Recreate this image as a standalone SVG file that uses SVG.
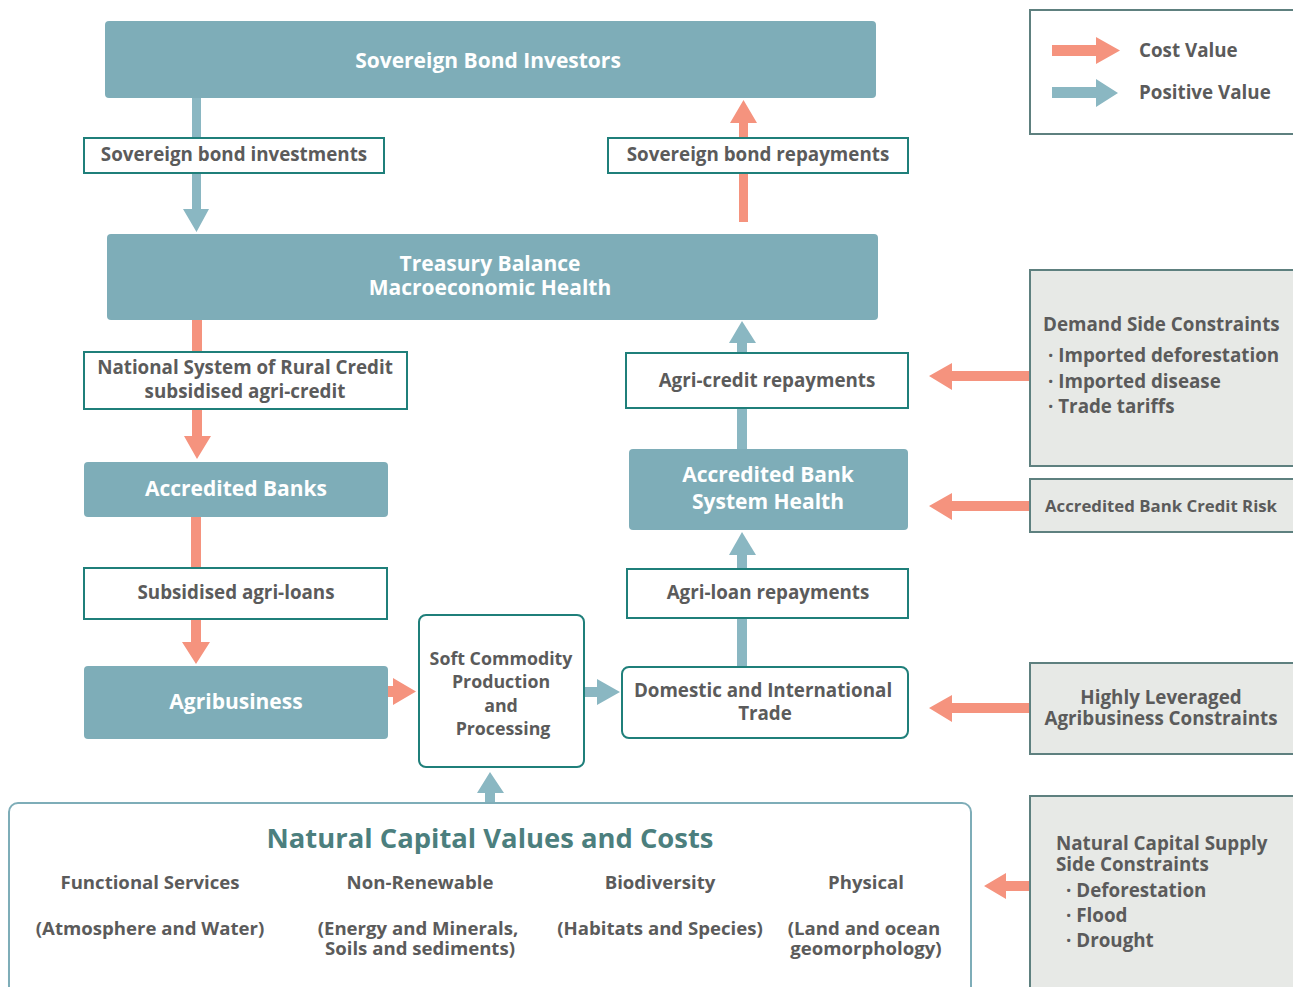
<svg xmlns="http://www.w3.org/2000/svg" width="1293" height="987" viewBox="0 0 1293 987">
<style>
text{font-family:"Open Sans","Noto Sans",sans-serif;font-weight:700;}
.box{fill:#7eadb8;}
.bt{fill:#ffffff;font-size:21px;text-anchor:middle;}
.lbl{fill:#ffffff;stroke:#1f7f7a;stroke-width:2;}
.lt{fill:#5b5b5b;font-size:18.8px;text-anchor:middle;}
.st{fill:#5b5b5b;font-size:17.8px;text-anchor:middle;}
.gray{fill:#e7e9e6;stroke:#5e807f;stroke-width:2;}
.gt{fill:#5b5b5b;font-size:18.8px;}
.cost{fill:#f5937e;}
.pos{fill:#8ab7c2;}
.nc{fill:#5b5b5b;font-size:18.6px;text-anchor:middle;}
</style>
<rect width="1293" height="987" fill="#ffffff"/>
<g id="connectors">
<polygon class="pos" points="192,98 201,98 201,209 209,209 196.5,232 183,209 192,209"/>
<polygon class="cost" points="739,222 748,222 748,123 757,123 743.5,100 730,123 739,123"/>
<polygon class="cost" points="192,320 202,320 202,436 211,436 197,459 184,436 192,436"/>
<polygon class="cost" points="191,517 201,517 201,642 210,642 196,664 182,642 191,642"/>
<polygon class="pos" points="737,343 747,343 747,449 737,449 737,343"/>
<polygon class="pos" points="729,343 742,321 756,343"/>
<polygon class="pos" points="737,555 747,555 747,667 737,667"/>
<polygon class="pos" points="729,555 742,532 756,555"/>
<polygon class="cost" points="388,686 393,686 393,678 416,691.5 393,705 393,697 388,697"/>
<polygon class="pos" points="584,687 597,687 597,679 620,692 597,705 597,697 584,697"/>
<polygon class="pos" points="485,803 495,803 495,793 504,793 490,772 477,793 485,793"/>
<polygon class="cost" points="1030,371 952,371 952,363 929,376 952,390 952,381 1030,381"/>
<polygon class="cost" points="1030,501 952,501 952,493 929,506 952,520 952,511 1030,511"/>
<polygon class="cost" points="1030,703 952,703 952,695 929,708 952,722 952,713 1030,713"/>
<polygon class="cost" points="1030,881 1006,881 1006,873 984,886 1006,899 1006,891 1030,891"/>
</g>
<g id="legend">
<rect x="1030" y="10" width="270" height="124" fill="#ffffff" stroke="#5e807f" stroke-width="2"/>
<polygon class="cost" points="1052,45 1096,45 1096,37 1120,50.5 1096,64 1096,56 1052,56"/>
<text x="1139" y="57" class="gt">Cost Value</text>
<polygon class="pos" points="1052,87 1096,87 1096,79 1118,93 1096,107 1096,98 1052,98"/>
<text x="1139" y="99" class="gt">Positive Value</text>
</g>
<g id="sovereign-bond-investors">
<rect class="box" x="105" y="21" width="771" height="77" rx="4"/>
<text class="bt" x="488" y="68">Sovereign Bond Investors</text>
</g>
<g id="sovereign-bond-investments">
<rect class="lbl" x="84" y="138" width="300" height="35"/>
<text class="lt" x="234" y="161">Sovereign bond investments</text>
</g>
<g id="sovereign-bond-repayments">
<rect class="lbl" x="608" y="138" width="300" height="35"/>
<text class="lt" x="758" y="161">Sovereign bond repayments</text>
</g>
<g id="treasury">
<rect class="box" x="107" y="234" width="771" height="86" rx="4"/>
<text class="bt"><tspan x="490" y="271">Treasury Balance</tspan><tspan x="490" y="295">Macroeconomic Health</tspan></text>
</g>
<g id="nsrc">
<rect class="lbl" x="84" y="352" width="323" height="57"/>
<text class="lt"><tspan x="245" y="374">National System of Rural Credit</tspan><tspan x="245" y="398">subsidised agri-credit</tspan></text>
</g>
<g id="accredited-banks">
<rect class="box" x="84" y="462" width="304" height="55" rx="4"/>
<text class="bt" x="236" y="496">Accredited Banks</text>
</g>
<g id="subsidised-agri-loans">
<rect class="lbl" x="84" y="568" width="303" height="51"/>
<text class="lt" x="236" y="599">Subsidised agri-loans</text>
</g>
<g id="agribusiness">
<rect class="box" x="84" y="666" width="304" height="73" rx="4"/>
<text class="bt" x="236" y="709">Agribusiness</text>
</g>
<g id="soft-commodity">
<rect class="lbl" x="419" y="615" width="165" height="152" rx="7"/>
<text class="st"><tspan x="501" y="665">Soft Commodity</tspan><tspan x="501" y="688">Production</tspan><tspan x="501" y="712">and</tspan><tspan x="503" y="735">Processing</tspan></text>
</g>
<g id="trade">
<rect class="lbl" x="622" y="667" width="286" height="71" rx="7"/>
<text class="lt"><tspan x="763" y="697">Domestic and International</tspan><tspan x="765" y="720">Trade</tspan></text>
</g>
<g id="agri-loan-repayments">
<rect class="lbl" x="627" y="569" width="281" height="49"/>
<text class="lt" x="768" y="599">Agri-loan repayments</text>
</g>
<g id="bank-system-health">
<rect class="box" x="629" y="449" width="279" height="81" rx="4"/>
<text class="bt"><tspan x="768" y="482">Accredited Bank</tspan><tspan x="768" y="509">System Health</tspan></text>
</g>
<g id="agri-credit-repayments">
<rect class="lbl" x="626" y="353" width="282" height="55"/>
<text class="lt" x="767" y="387">Agri-credit repayments</text>
</g>
<g id="demand-side">
<rect class="gray" x="1030" y="270" width="270" height="196"/>
<text class="gt"><tspan x="1043" y="331">Demand Side Constraints</tspan><tspan x="1048" y="362">· Imported deforestation</tspan><tspan x="1048" y="388">· Imported disease</tspan><tspan x="1048" y="413">· Trade tariffs</tspan></text>
</g>
<g id="credit-risk">
<rect class="gray" x="1030" y="479" width="270" height="53"/>
<text class="gt" x="1161" y="512" style="font-size:16.8px;text-anchor:middle">Accredited Bank Credit Risk</text>
</g>
<g id="leveraged">
<rect class="gray" x="1030" y="663" width="270" height="91"/>
<text class="gt" style="text-anchor:middle"><tspan x="1161" y="704">Highly Leveraged</tspan><tspan x="1161" y="725">Agribusiness Constraints</tspan></text>
</g>
<g id="supply-side">
<rect class="gray" x="1030" y="796" width="270" height="200"/>
<text class="gt"><tspan x="1056" y="850">Natural Capital Supply</tspan><tspan x="1056" y="871">Side Constraints</tspan><tspan x="1066" y="897">· Deforestation</tspan><tspan x="1066" y="922">· Flood</tspan><tspan x="1066" y="947">· Drought</tspan></text>
</g>
<g id="natural-capital">
<rect x="9" y="803" width="962" height="200" rx="9" fill="#ffffff" stroke="#7eadb8" stroke-width="2"/>
<text x="490" y="848" style="fill:#4c7f7e;font-size:27.4px;text-anchor:middle">Natural Capital Values and Costs</text>
<text class="nc" x="150" y="889">Functional Services</text>
<text class="nc" x="150" y="935">(Atmosphere and Water)</text>
<text class="nc" x="420" y="889">Non-Renewable</text>
<text class="nc"><tspan x="418" y="935">(Energy and Minerals,</tspan><tspan x="420" y="955">Soils and sediments)</tspan></text>
<text class="nc" x="660" y="889">Biodiversity</text>
<text class="nc" x="660" y="935">(Habitats and Species)</text>
<text class="nc" x="866" y="889">Physical</text>
<text class="nc"><tspan x="864" y="935">(Land and ocean</tspan><tspan x="866" y="955">geomorphology)</tspan></text>
</g>
</svg>
